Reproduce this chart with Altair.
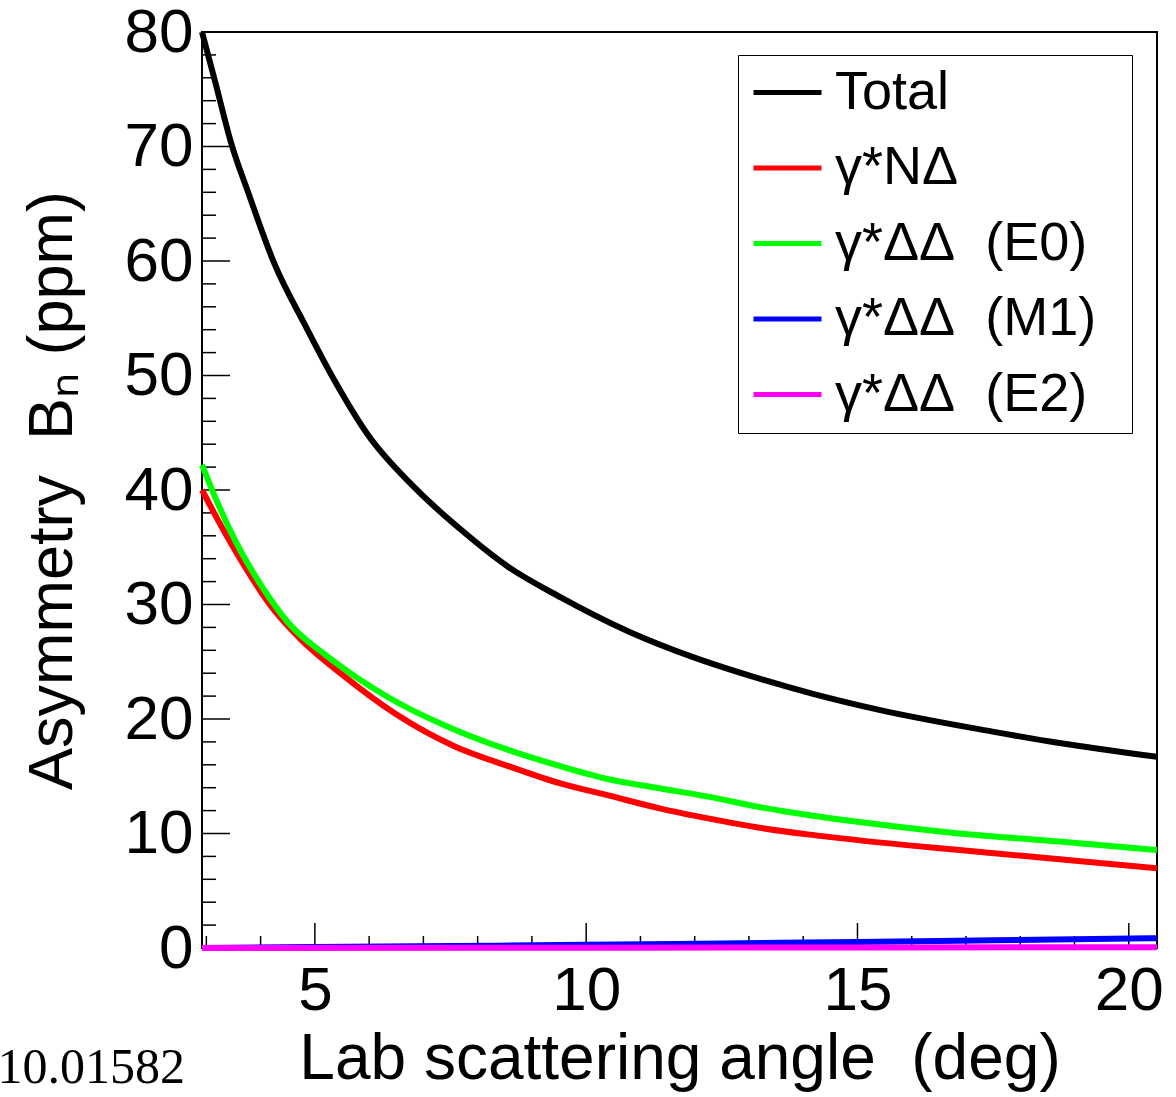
import altair as alt
import pandas as pd

# Beam-normal asymmetry B_n (ppm) versus lab scattering angle (deg), per contribution
total_angle = [2.92, 3.16, 3.47, 3.77, 4.26, 4.82, 5.37, 5.98, 6.84, 7.70, 8.56, 9.54,
               10.80, 11.97, 13.07, 14.18, 15.40, 17.49, 18.72, 20.52]
total_bn = [80.0, 75.7, 70.1, 66.0, 59.7, 54.4, 49.5, 44.8, 40.2, 36.5, 33.3, 30.6,
            27.6, 25.4, 23.7, 22.2, 20.8, 18.9, 17.9, 16.7]

nd_angle = [2.92, 3.28, 3.71, 4.20, 4.75, 5.55, 6.47, 7.58, 8.62, 9.51, 10.43, 11.35,
            12.27, 13.20, 14.12, 15.04, 16.88, 18.72, 20.52]
nd_bn = [40.0, 36.8, 33.3, 29.8, 26.9, 23.7, 20.5, 17.6, 15.8, 14.4, 13.3, 12.2,
         11.3, 10.5, 9.9, 9.4, 8.56, 7.75, 6.96]

e0_angle = [2.92, 3.16, 3.53, 4.02, 4.51, 5.25, 6.35, 7.46, 8.56, 9.51, 10.43, 11.35,
            12.27, 13.20, 14.12, 15.04, 16.88, 18.72, 20.52]
e0_bn = [42.2, 39.4, 35.6, 31.6, 28.4, 25.4, 21.9, 19.3, 17.3, 15.9, 14.73, 13.95,
         13.2, 12.3, 11.6, 11.0, 10.0, 9.3, 8.56]

m1_angle = [2.92, 5.0, 7.5, 10.0, 12.5, 15.0, 17.5, 20.52]
m1_bn = [0.0, 0.08, 0.17, 0.28, 0.40, 0.52, 0.67, 0.86]

e2_angle = [2.92, 10.0, 20.52]
e2_bn = [0.0, 0.03, 0.07]

NB = "\u00a0"
ZW = "\u200b"
series_names = ["Total", "γ*NΔ", f"γ*ΔΔ{NB}{NB}(E0)", f"γ*ΔΔ{NB}{NB}(M1)", f"γ*ΔΔ{NB}{NB}(E2)"]
series_colors = ["#000000", "#ff0000", "#00ff00", "#0000ff", "#ff00ff"]

# tick positions (ROOT-style ticks drawn inside the frame)
y_major = list(range(0, 81, 10))
y_minor = [v for v in range(0, 81, 2) if v % 10]
x_major = [5, 10, 15, 20]
x_minor = [v for v in range(3, 21) if v % 5]

W, H = 955, 916

rows = []
for name, xs, ys in zip(series_names,
                        [total_angle, nd_angle, e0_angle, m1_angle, e2_angle],
                        [total_bn, nd_bn, e0_bn, m1_bn, e2_bn]):
    for a, b in zip(xs, ys):
        rows.append({"series": name, "angle": a, "bn": b})
df = pd.DataFrame(rows)

xscale = alt.Scale(domain=[2.92, 20.52], nice=False, zero=False)
yscale = alt.Scale(domain=[0, 80], nice=False, zero=True)

FONT = "Liberation Sans"
xaxis = alt.Axis(values=x_major, ticks=False, tickSize=0, domain=False, grid=False,
                 labelFont=FONT, labelFontSize=62, labelColor="black", labelPadding=12,
                 labelFlush=False, labelOverlap=False,
                 title=f"Lab scattering angle{NB}{NB}(deg)", titleFont=FONT, titleFontSize=64,
                 titleFontWeight="normal", titleColor="black", titleY=130,
                 titleBaseline="alphabetic")
yaxis = alt.Axis(values=y_major, ticks=False, tickSize=0, domain=False, grid=False,
                 labelFont=FONT, labelFontSize=62, labelColor="black", labelPadding=9,
                 labelFlush=False, labelOverlap=False, labelBaseline="middle",
                 title=f"Asymmetry{NB}{NB}Bₙ (ppm)", titleFont=FONT, titleFontSize=63,
                 titleFontWeight="normal", titleColor="black", titleX=-131,
                 titleBaseline="alphabetic")

# boxed legend; the trailing blank keeps room to the right of the labels,
# the blank bottom title's padding leaves space under the last entry
legend = alt.Legend(title=NB, titleOrient="bottom", titlePadding=4, titleFontSize=6,
                    orient="none", legendX=536, legendY=23,
                    symbolType="stroke", symbolSize=4624, symbolStrokeWidth=5,
                    symbolOffset=12, labelOffset=11, labelFont=FONT, labelFontSize=54,
                    labelColor="black", labelLimit=0, rowPadding=11.5, padding=1,
                    strokeColor="black", fillColor="white",
                    labelExpr=f"datum.label + '{NB}{NB}\u200a{ZW}'")

lines = alt.Chart(df).mark_line(strokeWidth=6, clip=False, interpolate="monotone").encode(
    x=alt.X("angle:Q", scale=xscale, axis=xaxis),
    y=alt.Y("bn:Q", scale=yscale, axis=yaxis),
    color=alt.Color("series:N", scale=alt.Scale(domain=series_names, range=series_colors),
                    legend=legend),
)

def yticks(vals, length):
    return alt.Chart(pd.DataFrame({"bn": vals})).mark_rule(color="black", strokeWidth=1.5).encode(
        y=alt.Y("bn:Q", scale=yscale, axis=yaxis), x=alt.value(0), x2=alt.value(length))

def xticks(vals, length):
    return alt.Chart(pd.DataFrame({"angle": vals})).mark_rule(color="black", strokeWidth=1.5).encode(
        x=alt.X("angle:Q", scale=xscale, axis=xaxis), y=alt.value(H), y2=alt.value(H - length))

stamp = alt.Chart(pd.DataFrame({"t": ["10.01582"]})).mark_text(
    align="right", baseline="alphabetic", font="Liberation Serif", fontSize=50, color="black"
).encode(text="t:N", x=alt.value(-17), y=alt.value(1051))

chart = alt.layer(
    yticks(y_major, 28), yticks(y_minor, 14), xticks(x_major, 25), xticks(x_minor, 12),
    lines, stamp
).properties(
    width=W, height=H,
    autosize=alt.AutoSizeParams(type="none"),
    padding={"left": 202, "top": 32, "right": 19, "bottom": 149},
    background="white",
).configure_view(stroke="black", strokeWidth=2)

chart.save("out.html", embed_options={"renderer": "svg", "actions": False})
